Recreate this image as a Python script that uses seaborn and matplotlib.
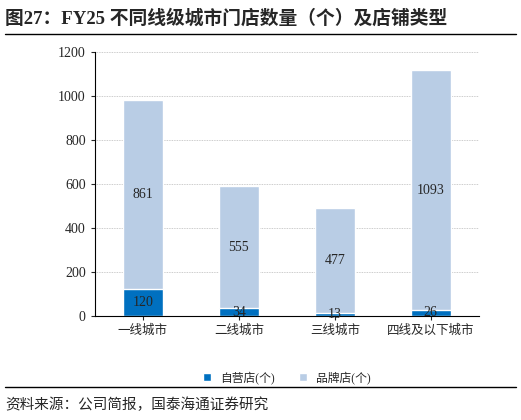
import matplotlib
matplotlib.use("Agg")
import matplotlib.pyplot as plt
import seaborn as sns
import pandas as pd

categories = ["一线城市", "二线城市", "三线城市", "四线及以下城市"]
self_op = [120, 34, 13, 26]
brand = [861, 555, 477, 1093]

sns.set_style("white")
plt.rcParams['font.family'] = ['Liberation Serif', 'Noto Sans CJK SC']

df = pd.DataFrame({"cat": categories, "self": self_op, "brand": brand})
df["total"] = df["self"] + df["brand"]

fig = plt.figure(figsize=(5.21, 4.2), dpi=100)
ax = fig.add_axes([0.182, 0.248, 0.737, 0.628])
sns.barplot(data=df, x="cat", y="total", color="#B9CDE5", width=0.42, ax=ax, label="品牌店(个)", saturation=1)
sns.barplot(data=df, x="cat", y="self", color="#0070C0", width=0.42, ax=ax, label="自营店(个)", saturation=1)
for i, (s, b) in enumerate(zip(self_op, brand)):
    ax.text(i, s / 2, str(s), ha="center", va="center", fontsize=10)
    ax.text(i, s + b / 2, str(b), ha="center", va="center", fontsize=10)
ax.set_ylim(0, 1200)
ax.set_yticks(range(0, 1201, 200))
ax.yaxis.grid(True, linestyle=(0, (1, 1)), color="#BBBBBB", linewidth=0.6)
ax.set_axisbelow(True)
ax.set_xlabel("")
ax.set_ylabel("")
for s in ["top", "right"]:
    ax.spines[s].set_visible(False)
ax.spines["left"].set_color("black")
ax.spines["bottom"].set_color("black")
ax.tick_params(axis="y", left=True, length=3, labelsize=10)
ax.tick_params(axis="x", bottom=True, length=3, labelsize=9)
h, l = ax.get_legend_handles_labels()
ax.legend(h[::-1], l[::-1], loc="upper center", bbox_to_anchor=(0.5, -0.17), ncol=2, frameon=False,
          fontsize=8.5, handlelength=0.7, handleheight=0.7, columnspacing=2)

fig.text(0.01, 0.955, "图27：FY25 不同线级城市门店数量（个）及店铺类型", fontsize=13.5, fontweight="bold", va="center")
fig.add_artist(plt.Line2D([0.01, 0.99], [0.918, 0.918], color="black", linewidth=1))
fig.add_artist(plt.Line2D([0.01, 0.99], [0.078, 0.078], color="black", linewidth=1))
fig.text(0.01, 0.035, "资料来源：公司简报，国泰海通证券研究", fontsize=10.5, va="center")
fig.savefig("out.png", dpi=100)
